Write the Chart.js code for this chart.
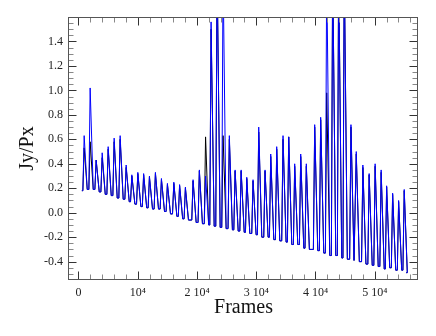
<!DOCTYPE html>
<html>
<head>
<meta charset="utf-8">
<script src="https://cdn.jsdelivr.net/npm/chart.js@4.4.1/dist/chart.umd.min.js"></script>
<style>
  html, body { margin: 0; padding: 0; background: #fff; }
  #wrap { width: 436px; height: 336px; }
</style>
</head>
<body>
<div id="wrap"><canvas id="jyChart" width="436" height="336"></canvas></div>
<script>
// ---- data ----
// frame of each spike
const peakFrames = [960, 1970, 2985, 4000, 5010, 6020, 7030, 8045, 9005, 10015,
  10995, 11975, 12985, 14000, 15010, 16090, 17065, 18045, 19340, 20400,
  21450, 22380, 23390, 24400, 25460, 26435, 27450, 28400, 29460, 30420,
  31485, 32445, 33455, 34520, 35480, 36490, 37505, 38450, 39865, 40875,
  41890, 42900, 43910, 44855, 45985, 46880, 47995, 49055, 50065, 51080,
  52005, 53020, 54030, 54975];
// top of each spike, blue curve (values above 1.6 run off the frame)
const bluePeaks = [0.63, 1.02, 0.43, 0.49, 0.54, 0.61, 0.63, 0.39, 0.31, 0.33,
  0.32, 0.30, 0.33, 0.28, 0.24, 0.25, 0.23, 0.21, 0.27, 0.35,
  0.30, 1.56, 2.00, 2.00, 0.63, 0.35, 0.35, 0.29, 0.27, 0.70,
  0.35, 0.48, 0.54, 0.63, 0.62, 0.40, 0.48, 0.40, 0.72, 0.78,
  2.00, 2.00, 2.00, 2.00, 0.72, 0.50, 0.39, 0.32, 0.40, 0.35,
  0.22, 0.16, 0.10, 0.19];
// top of each spike, black curve
const blackPeaks = [0.53, 0.58, 0.43, 0.45, 0.52, 0.58, 0.60, 0.37, 0.30, 0.32,
  0.31, 0.29, 0.32, 0.27, 0.23, 0.24, 0.22, 0.20, 0.26, 0.34,
  0.62, 1.50, 2.00, 0.63, 0.60, 0.34, 0.34, 0.28, 0.26, 0.66,
  0.34, 0.46, 0.52, 0.60, 0.62, 0.38, 0.46, 0.38, 0.70, 0.76,
  0.98, 2.00, 2.00, 2.00, 0.70, 0.48, 0.37, 0.31, 0.38, 0.33,
  0.21, 0.15, 0.09, 0.18];
// floor just before each spike
const troughs = [0.18, 0.19, 0.19, 0.17, 0.15, 0.14, 0.12, 0.11, 0.09, 0.07,
  0.05, 0.04, 0.03, 0.03, 0.01, -0.01, -0.03, -0.05, -0.06, -0.08,
  -0.09, -0.10, -0.11, -0.12, -0.13, -0.14, -0.15, -0.16, -0.17, -0.18,
  -0.20, -0.20, -0.22, -0.23, -0.24, -0.26, -0.26, -0.29, -0.30, -0.31,
  -0.33, -0.35, -0.35, -0.37, -0.38, -0.39, -0.40, -0.42, -0.43, -0.44,
  -0.46, -0.45, -0.47, -0.47];
const firstFrame = 570, firstValue = 0.18;
const lastFrame = 55300, lastValue = -0.49;

const xTickValues = [0, 10000, 20000, 30000, 40000, 50000];
const xTickLabels = ['0', '10\u2074', '2 10\u2074', '3 10\u2074', '4 10\u2074', '5 10\u2074'];
const yTickValues = [-0.4, -0.2, 0, 0.2, 0.4, 0.6, 0.8, 1.0, 1.2, 1.4];
const yTickLabels = ['-0.4', '-0.2', '0.0', '0.2', '0.4', '0.6', '0.8', '1.0', '1.2', '1.4'];

// spike shape: rise / fall width in frames
const riseFrames = 220, fallFrames = 520;

function buildSeries(peaks) {
    const pts = [{ x: firstFrame, y: firstValue }];
    peakFrames.forEach((f, i) => {
        const next = i + 1 < troughs.length ? troughs[i + 1] : lastValue;
        pts.push({ x: f - riseFrames, y: troughs[i] });
        pts.push({ x: f, y: peaks[i] });
        pts.push({ x: f + fallFrames, y: next });
    });
    pts.push({ x: lastFrame, y: lastValue });
    return pts;
}

// -------------------------------
// frame + inward ticks on all four sides
// -------------------------------
const frameTicks = {
    id: 'frameTicks',
    afterDraw(chart) {
        const { ctx, chartArea: a, scales: { x, y } } = chart;
        const L = Math.round(a.left) - 0.5, R = Math.round(a.right) - 0.5;
        const T = Math.round(a.top) + 0.5, B = Math.round(a.bottom) - 0.5;
        ctx.save();
        ctx.lineWidth = 1;

        const tick = (x1, y1, x2, y2, col) => {
            ctx.strokeStyle = col;
            ctx.beginPath();
            ctx.moveTo(x1, y1);
            ctx.lineTo(x2, y2);
            ctx.stroke();
        };

        for (let v = 0; v <= 56000; v += 2000) {
            const major = v % 10000 === 0;
            const len = major ? 8 : 5;
            const col = major ? '#333' : '#888';
            const px = Math.round(x.getPixelForValue(v)) + 0.5;
            tick(px, B, px, B - len, col);
            tick(px, T, px, T + len, col);
        }
        for (let k = -10; k <= 31; k++) {
            const v = k * 0.05;
            const major = k % 4 === 0;
            const len = major ? 8 : 5;
            const col = major ? '#333' : '#888';
            const py = Math.round(y.getPixelForValue(v)) + 0.5;
            tick(L, py, L + len, py, col);
            tick(R, py, R - len, py, col);
        }

        ctx.strokeStyle = '#555';
        ctx.strokeRect(L, T, R - L, B - T);
        ctx.restore();
    }
};

const serif = "'Liberation Serif', 'DejaVu Serif', serif";

const ctx = document.getElementById('jyChart').getContext('2d');
window.jyChart = new Chart(ctx, {
    type: 'line',
    data: {
        datasets: [
            {
                label: 'blue',
                data: buildSeries(bluePeaks),
                borderColor: '#0000ff',
                borderWidth: 1,
                pointRadius: 0,
                tension: 0,
                fill: false
            },
            {
                label: 'black',
                data: buildSeries(blackPeaks),
                borderColor: '#000000',
                borderWidth: 1,
                pointRadius: 0,
                tension: 0,
                fill: false
            }
        ]
    },
    options: {
        responsive: false,
        animation: false,
        events: [],
        layout: { padding: { top: 17, right: 18, left: 0, bottom: 0 } },
        plugins: {
            legend: { display: false },
            tooltip: { enabled: false }
        },
        scales: {
            x: {
                type: 'linear',
                min: -1600,
                max: 57300,
                grid: { display: false, drawTicks: false },
                border: { display: false },
                afterBuildTicks: s => { s.ticks = xTickValues.map(v => ({ value: v })); },
                afterFit: s => { s.height = 56; },
                ticks: {
                    autoSkip: false,
                    maxRotation: 0,
                    padding: 6,
                    color: '#222',
                    font: { family: serif, size: 12 },
                    callback: (v, i) => xTickLabels[i]
                },
                title: {
                    display: true,
                    text: 'Frames',
                    color: '#111',
                    font: { family: serif, size: 20 },
                    padding: { top: 0, bottom: 16 }
                }
            },
            y: {
                type: 'linear',
                min: -0.55,
                max: 1.6,
                grid: { display: false, drawTicks: false },
                border: { display: false },
                afterBuildTicks: s => { s.ticks = yTickValues.map(v => ({ value: v })); },
                afterFit: s => { s.width = 69; },
                ticks: {
                    autoSkip: false,
                    padding: 6,
                    color: '#222',
                    font: { family: serif, size: 12 },
                    callback: (v, i) => yTickLabels[i]
                },
                title: {
                    display: true,
                    text: 'Jy/Px',
                    color: '#111',
                    font: { family: serif, size: 20 },
                    padding: { top: 16, bottom: 0 }
                }
            }
        }
    },
    plugins: [frameTicks]
});
</script>
</body>
</html>
